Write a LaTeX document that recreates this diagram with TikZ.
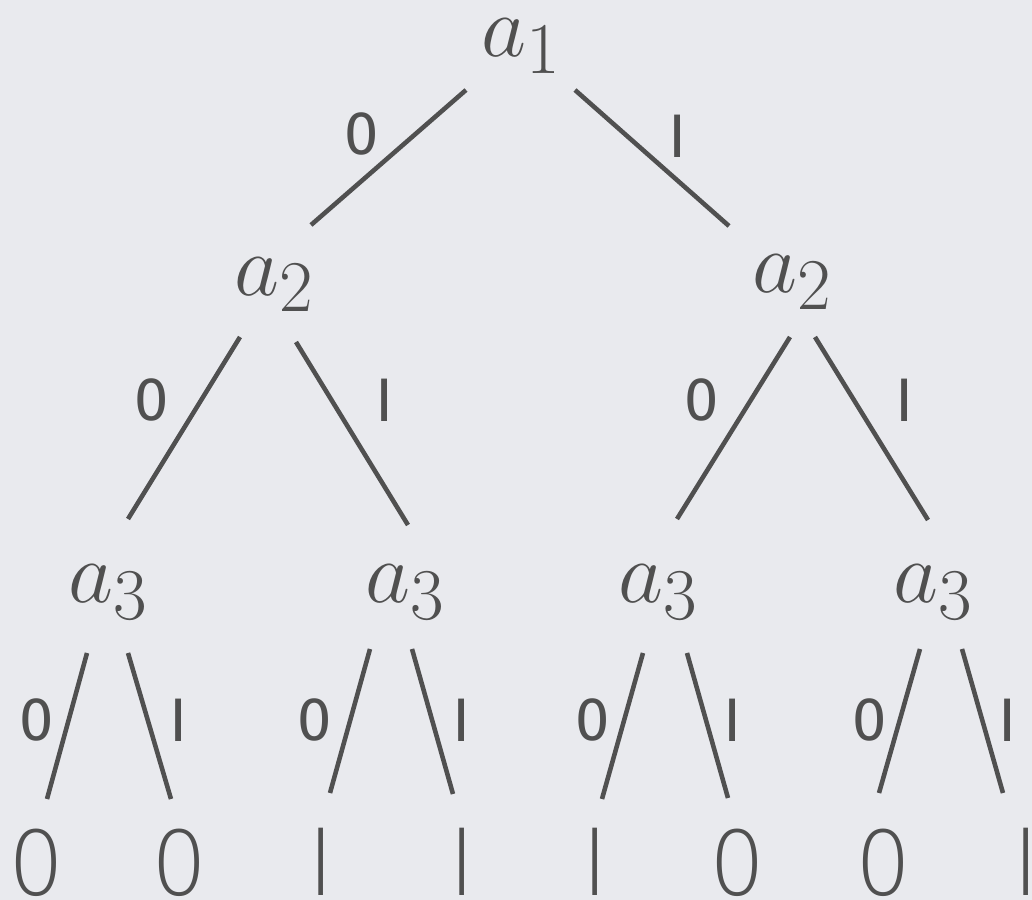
\documentclass[tikz,border=0pt]{standalone}
\usepackage{fontspec}
\usetikzlibrary{calc}
\newfontfamily\leaffont{Fira Sans ExtraLight}
\newfontfamily\bitfont{Fira Sans}
\definecolor{paper}{RGB}{233,234,238}
\definecolor{ink}{RGB}{80,80,80}
\tikzset{
  var/.style={anchor=base, inner sep=0pt, text=ink, font=\fontsize{28}{32}\selectfont},
  leaf/.style={anchor=base, inner sep=0pt, text=ink, font=\leaffont\fontsize{28}{32}\selectfont},
  bit/.style={inner sep=0pt, text=ink, font=\bitfont\fontsize{17.5}{20}\selectfont},
  branch/.style={draw=ink, line width=1.3pt}
}
\begin{document}
\begin{tikzpicture}[x=0.01cm, y=-0.01cm]
\fill[paper] (0,0) rectangle (1032,900);
\useasboundingbox (0,0) rectangle (1032,900);

% variables
\node[var] (a1) at (522,57) {$a_1$};
\node[var] (a2l) at (274.5,295) {$a_2$};
\node[var] (a2r) at (792.5,293) {$a_2$};
\node[var] (a3a) at (109,603) {$a_3$};
\node[var] (a3b) at (405.5,603) {$a_3$};
\node[var] (a3c) at (659,603) {$a_3$};
\node[var] (a3d) at (934,603) {$a_3$};

% leaves
\foreach \x/\v [count=\i] in {36/0,179/0,321/I,462/I,595/I,737/0,883/0,1026/I}
  \node[leaf] (leaf\i) at (\x,896) {\v};

% branches
\draw[branch] ($(a1.base)+(-56,33)$) -- ($(a2l.base)+(36.5,-70)$);
\draw[branch] ($(a1.base)+(53,33)$) -- ($(a2r.base)+(-63.5,-67)$);
\draw[branch] ($(a2l.base)+(-34.5,42)$) -- ($(a3a.base)+(19,-84)$);
\draw[branch] ($(a2l.base)+(21.5,47)$) -- ($(a3b.base)+(2.5,-78)$);
\draw[branch] ($(a2r.base)+(-2.5,44)$) -- ($(a3c.base)+(18,-84)$);
\draw[branch] ($(a2r.base)+(22.5,44)$) -- ($(a3d.base)+(-6,-83)$);
\draw[branch] ($(a3a.base)+(-22,50)$) -- ($(leaf1.base)+(11,-97)$);
\draw[branch] ($(a3a.base)+(19,50)$) -- ($(leaf2.base)+(-8,-97)$);
\draw[branch] ($(a3b.base)+(-35.5,46)$) -- ($(leaf3.base)+(9,-103)$);
\draw[branch] ($(a3b.base)+(6.5,46)$) -- ($(leaf4.base)+(-9,-102)$);
\draw[branch] ($(a3c.base)+(-16,50)$) -- ($(leaf5.base)+(7,-97)$);
\draw[branch] ($(a3c.base)+(28,50)$) -- ($(leaf6.base)+(-9,-98)$);
\draw[branch] ($(a3d.base)+(-14,46)$) -- ($(leaf7.base)+(-4,-103)$);
\draw[branch] ($(a3d.base)+(28,46)$) -- ($(leaf8.base)+(-23,-103)$);

% branch bits
\node[bit] (b1) at (362,134) {0};
\node[bit] (b2) at (678,136) {I};
\foreach \x/\v [count=\i] in {152/0,385/I,702/0,905/I}
  \node[bit] (c\i) at (\x,400) {\v};
\foreach \x/\v [count=\i] in {37/0,179/I,315/0,462/I,593/0,733/I,870/0,1008/I}
  \node[bit] (d\i) at (\x,720) {\v};
\end{tikzpicture}
\end{document}
